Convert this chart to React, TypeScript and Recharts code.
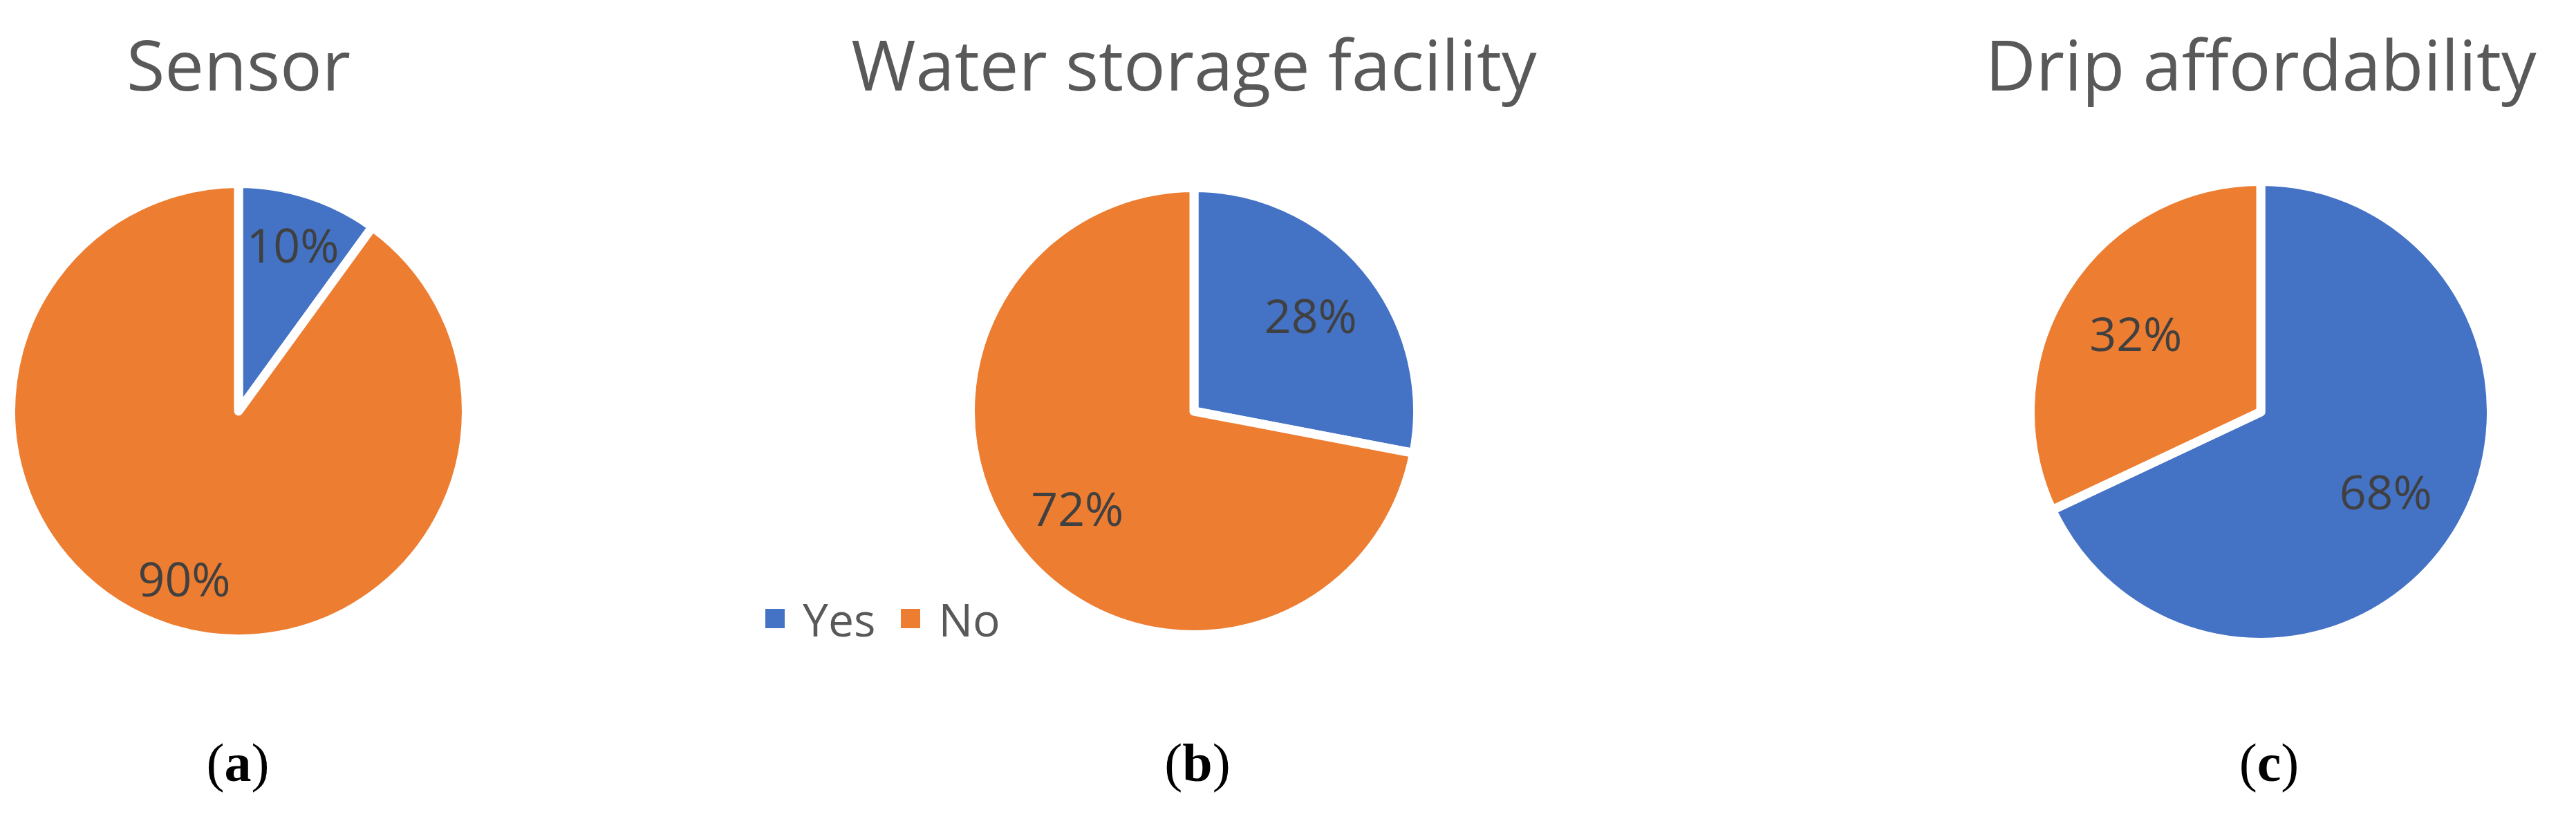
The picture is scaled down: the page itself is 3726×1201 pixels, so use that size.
import { PieChart, Pie, Cell, Legend } from 'recharts';

// Survey answers, in percent
const categories = ['Yes', 'No'];
const sensorValues = [10, 90];
const waterStorageValues = [28, 72];
const dripValues = [68, 32];
const titles = ['Sensor', 'Water storage facility', 'Drip affordability'];
const panelTags = ['a', 'b', 'c'];

const COLORS = ['#4472C4', '#ED7D31'];
const W = 3726;
const H = 1201;
const FONT = '"Open Sans", "Noto Sans", sans-serif';
const SEP = 13; // white gap between slices

// geometry of each panel (centre, visible radius, where the % labels sit)
const panels = [
  { values: sensorValues, cx: 345, cy: 595, r: 323, labelR: 254, tagX: 344 },
  { values: waterStorageValues, cx: 1727, cy: 595, r: 317, labelR: 219, tagX: 1732 },
  { values: dripValues, cx: 3270, cy: 596, r: 327, labelR: 214, tagX: 3282 },
];

const RAD = Math.PI / 180;

const makeLabel = (labelR: number) => (props: any) => {
  const { cx, cy, midAngle, value } = props;
  const a = -midAngle * RAD;
  return (
    <text
      x={cx + labelR * Math.cos(a)}
      y={cy + labelR * Math.sin(a)}
      textAnchor="middle"
      dominantBaseline="central"
      fill="#404040"
      fontSize={68}
      fontFamily={FONT}
    >
      {`${value}%`}
    </text>
  );
};

// only one Yes / No entry each, in category order
const renderLegend = (props: any) => {
  const seen = new Set<string>();
  const items = (props.payload || [])
    .filter((p: any) => {
      if (seen.has(p.value)) return false;
      seen.add(p.value);
      return true;
    })
    .sort((a: any, b: any) => categories.indexOf(a.value) - categories.indexOf(b.value));
  return (
    <div style={{ display: 'flex', alignItems: 'center', fontFamily: FONT, fontSize: 66, color: '#595959' }}>
      {items.map((p: any, i: number) => (
        <div key={i} style={{ display: 'flex', alignItems: 'center', marginRight: 37 }}>
          <span
            style={{
              display: 'inline-block',
              width: 28,
              height: 28,
              marginRight: 26,
              background: COLORS[categories.indexOf(p.value)],
            }}
          />
          <span>{p.value}</span>
        </div>
      ))}
    </div>
  );
};

export default function App() {
  return (
    <div style={{ position: 'absolute', left: 0, top: 0, width: W, height: H, background: '#fff', overflow: 'hidden' }}>
      <svg width={W} height={H} style={{ position: 'absolute', left: 0, top: 0 }}>
        {panels.map((p, i) => (
          <text key={`t${i}`} x={p.cx} y={131} textAnchor="middle" fill="#595959" fontSize={101} fontFamily={FONT}>
            {titles[i]}
          </text>
        ))}
        {panels.map((p, i) => (
          <text
            key={`g${i}`}
            x={p.tagX}
            y={1130}
            textAnchor="middle"
            fill="#000"
            fontSize={78}
            fontFamily='"Liberation Serif", "DejaVu Serif", serif'
          >
            (<tspan fontWeight="bold">{panelTags[i]}</tspan>)
          </text>
        ))}
      </svg>
      <div style={{ position: 'absolute', left: 0, top: 0 }}>
        <PieChart width={W} height={H} margin={{ top: 0, right: 0, bottom: 0, left: 0 }}>
          {panels.map((p, i) => (
            <Pie
              key={i}
              data={categories.map((name, j) => ({ name, value: p.values[j] }))}
              dataKey="value"
              nameKey="name"
              cx={p.cx}
              cy={p.cy}
              outerRadius={p.r + SEP / 2}
              startAngle={90}
              endAngle={-270}
              stroke="#ffffff"
              strokeWidth={SEP}
              strokeLinejoin="round"
              label={makeLabel(p.labelR)}
              labelLine={false}
              legendType={i === 1 ? 'square' : 'none'}
              isAnimationActive={false}
            >
              {categories.map((c, j) => (
                <Cell key={c} fill={COLORS[j]} />
              ))}
            </Pie>
          ))}
          <Legend
            content={renderLegend}
            wrapperStyle={{ left: 1107, top: 850, bottom: 'auto', width: 'auto', height: 'auto' }}
          />
        </PieChart>
      </div>
    </div>
  );
}
